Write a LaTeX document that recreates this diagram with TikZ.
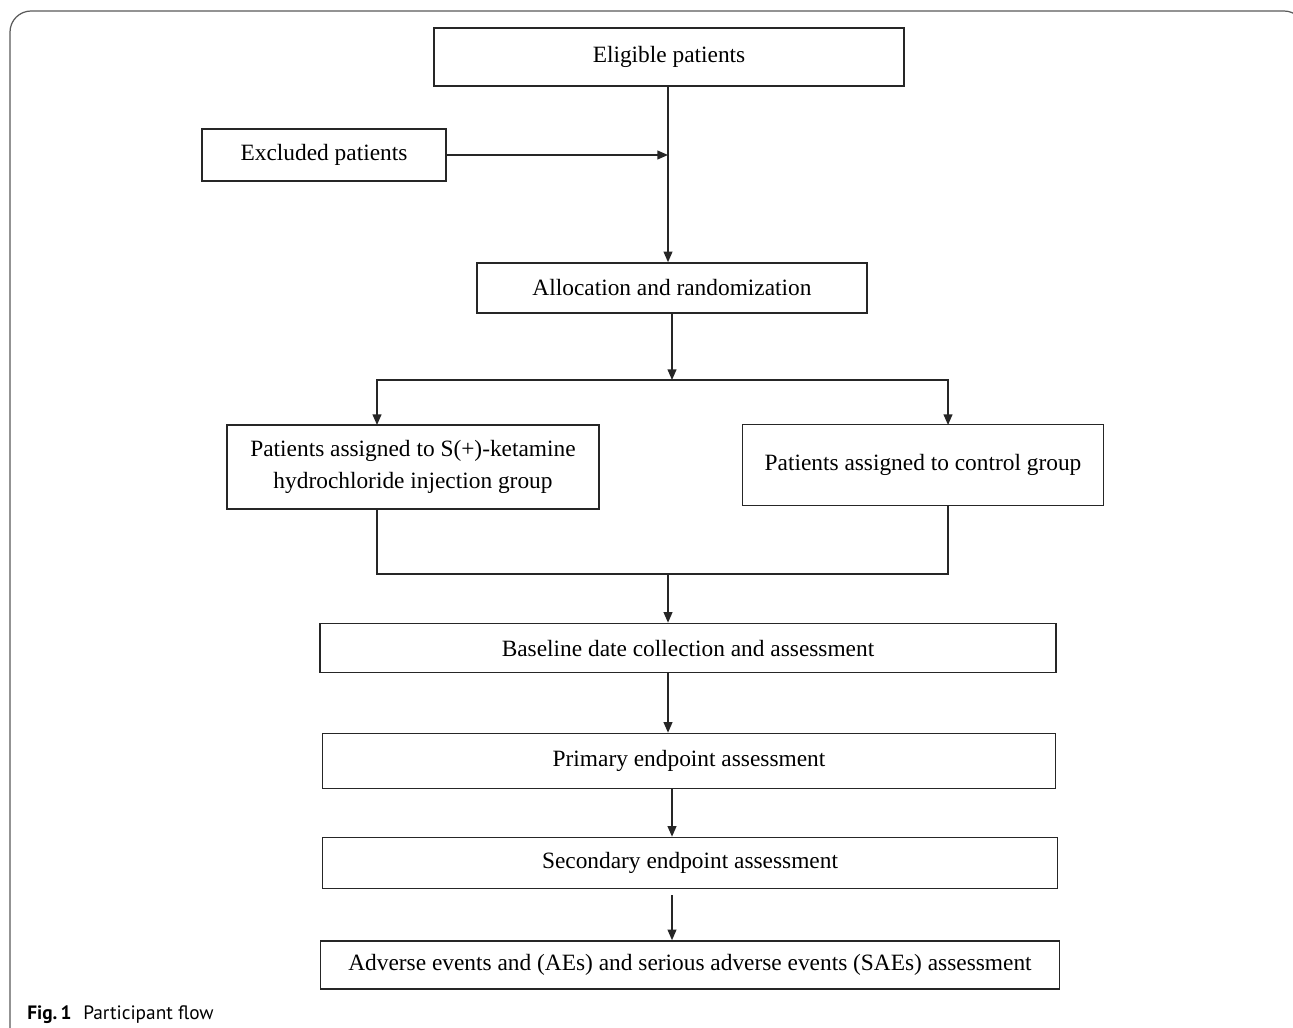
\documentclass[tikz,border=0pt]{standalone}
\usepackage{fontspec}
\setmainfont{Liberation Serif}
\newfontfamily\capfont{PT Sans}
\usetikzlibrary{arrows.meta, calc}

\tikzset{
    box/.style={draw=black!85, line width=0.9pt, inner sep=2pt, align=center,
        font=\fontsize{13.3}{18.5}\selectfont},
    link/.style={draw=black!85, line width=0.8pt}
}

\begin{document}
\begin{tikzpicture}[x=0.02cm, y=-0.02cm, >={Triangle[length=6pt,width=5pt]}]
    \useasboundingbox (0,0) rectangle (1293,1027);
    \clip (0,0) rectangle (1293,1027);

    % Frame
    \draw[black!65, line width=0.7pt, rounded corners=12] (10,1060) -- (10,11) -- (1305,11) -- (1305,1060);

    % Boxes
    \node[box, minimum width=9.4cm, minimum height=1.16cm] (elig) at (669,57) {Eligible patients};
    \node[box, minimum width=4.88cm, minimum height=1.04cm] (excl) at (324,155) {Excluded patients};
    \node[box, minimum width=7.8cm, minimum height=1.0cm] (alloc) at (672,288) {Allocation and randomization};
    \node[box, minimum width=7.44cm, minimum height=1.68cm] (keta) at (413,467)
        {Patients assigned to S(+)-ketamine\\hydrochloride injection group};
    \node[box, minimum width=7.22cm, minimum height=1.62cm] (ctrl) at (923,465) {Patients assigned to control group};
    \node[box, minimum width=14.72cm, minimum height=0.98cm] (base) at (688,648) {Baseline date collection and assessment};
    \node[box, minimum width=14.66cm, minimum height=1.1cm] (prim) at (689,761) {Primary endpoint assessment};
    \node[box, minimum width=14.7cm, minimum height=1.02cm] (sec) at (690,863) {Secondary endpoint assessment};
    \node[box, minimum width=14.78cm, minimum height=0.96cm] (adv) at (690,965)
        {Adverse events and (AEs) and serious adverse events (SAEs) assessment};

    % Branch points
    \coordinate (split) at (672,380);
    \coordinate (join) at (668,574);
    \coordinate (ketaIn) at (377,425);
    \coordinate (ketaOut) at (377,509);
    \coordinate (ctrlIn) at (948,425);
    \coordinate (ctrlOut) at (948,506);

    % Connectors
    \draw[link,->] (elig.south -| join) -- (alloc.north -| join);
    \draw[link,->] (excl.east) -- (excl.east -| join);
    \draw[link,->] (alloc) -- (split);
    \draw[link,->] (split) -| (ketaIn);
    \draw[link,->] (split) -| (ctrlIn);
    \draw[link] (ketaOut) |- (join) -| (ctrlOut);
    \draw[link,->] (join) -- (join |- base.north);
    \draw[link,->] (join |- base.south) -- (join |- prim.north);
    \draw[link,->] (split |- prim.south) -- (split |- sec.north);
    \draw[link,->] ($(split |- sec.south)+(0,6)$) -- (split |- adv.north);

    % Caption
    \node[anchor=base west, inner sep=0pt, font=\capfont\fontsize{11}{13}\selectfont] (cap) at (27,1019)
        {\textbf{Fig.\,1}\hspace{0.6em}Participant flow};
\end{tikzpicture}
\end{document}
